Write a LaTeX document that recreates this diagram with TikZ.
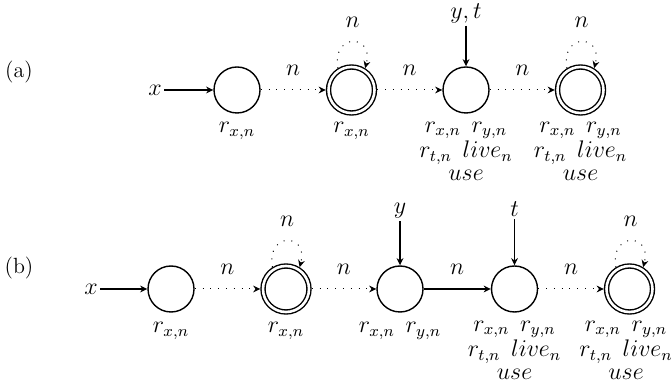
\documentclass[tikz,border=0pt]{standalone}
\usetikzlibrary{arrows.meta}
\begin{document}
\begin{tikzpicture}[x=0.5pt,y=0.5pt,font=\large,
  state/.style={circle,draw,line width=0.7pt,minimum size=23pt,inner sep=0pt},
  final/.style={state,double,double distance=1.3pt,outer sep=1.35pt},
  tr/.style={-{Stealth[length=3.6pt,width=3.4pt,inset=1.2pt]},line width=0.6pt},
  dotedge/.style={tr,line width=0.5pt,dash pattern=on 0.5pt off 3.4pt},
  elab/.style={midway,above=7pt,inner sep=0pt},
  inlab/.style={inner sep=1.2pt},
  info/.style={align=center,font=\large\linespread{0.8}\selectfont,inner sep=0pt},
  tag/.style={font=\fontsize{11}{13}\selectfont}
]
\useasboundingbox (0,0) rectangle (672,-383);

% ---------- (a) ----------
\node[tag] (la) at (19,-72) {(a)};
\node[inlab] (xa) at (155,-90) {$x$};
\node[state] (A1) at (237,-90) {};
\node[final] (A2) at (351.5,-90) {};
\node[state] (A3) at (466,-90) {};
\node[final] (A4) at (580.5,-90) {};
\node[inlab] (yta) at (466,-13) {$y,t$};

\draw[tr] (xa) -- (A1);
\draw[tr] (yta) -- (A3);
\draw[dotedge] (A1) -- node[elab] {$n$} (A2);
\draw[dotedge] (A2) -- node[elab] {$n$} (A3);
\draw[dotedge] (A3) -- node[elab] {$n$} (A4);
\draw[dotedge] (A2.122) .. controls +(100:36) and +(75:36) .. node[elab] {$n$} (A2.58);
\draw[dotedge] (A4.122) .. controls +(100:36) and +(75:36) .. node[elab] {$n$} (A4.58);

\node[info] (ia1) at (237,-131) {$r_{x,n}$};
\node[info] (ia2) at (351.5,-131) {$r_{x,n}$};
\node[info] (ia3) at (466,-151) {$r_{x,n}\;\, r_{y,n}$\\ $r_{t,n}\;\, live_n$\\ $use$};
\node[info] (ia4) at (580.5,-151) {$r_{x,n}\;\, r_{y,n}$\\ $r_{t,n}\;\, live_n$\\ $use$};

% ---------- (b) ----------
\node[tag] (lb) at (19,-268) {(b)};
\node[inlab] (xb) at (91,-289) {$x$};
\node[state] (B1) at (171,-289) {};
\node[final] (B2) at (286,-289) {};
\node[state] (B3) at (400,-289) {};
\node[state] (B4) at (514.5,-289) {};
\node[final] (B5) at (629.5,-289) {};
\node[inlab] (yb) at (400,-211) {$y$};
\node[inlab] (tb) at (514.5,-209) {$t$};

\draw[tr] (xb) -- (B1);
\draw[tr] (yb) -- (B3);
\draw[tr] (tb) -- (B4);
\draw[dotedge] (B1) -- node[elab] {$n$} (B2);
\draw[dotedge] (B2) -- node[elab] {$n$} (B3);
\draw[tr] (B3) -- node[elab] {$n$} (B4);
\draw[dotedge] (B4) -- node[elab] {$n$} (B5);
\draw[dotedge] (B2.122) .. controls +(100:36) and +(75:36) .. node[elab] {$n$} (B2.58);
\draw[dotedge] (B5.122) .. controls +(100:36) and +(75:36) .. node[elab] {$n$} (B5.58);

\node[info] (ib1) at (171,-331) {$r_{x,n}$};
\node[info] (ib2) at (286,-331) {$r_{x,n}$};
\node[info] (ib3) at (400,-331) {$r_{x,n}\;\, r_{y,n}$};
\node[info] (ib4) at (514.5,-350) {$r_{x,n}\;\, r_{y,n}$\\ $r_{t,n}\;\, live_n$\\ $use$};
\node[info] (ib5) at (626,-350) {$r_{x,n}\;\, r_{y,n}$\\ $r_{t,n}\;\, live_n$\\ $use$};
\end{tikzpicture}
\end{document}
